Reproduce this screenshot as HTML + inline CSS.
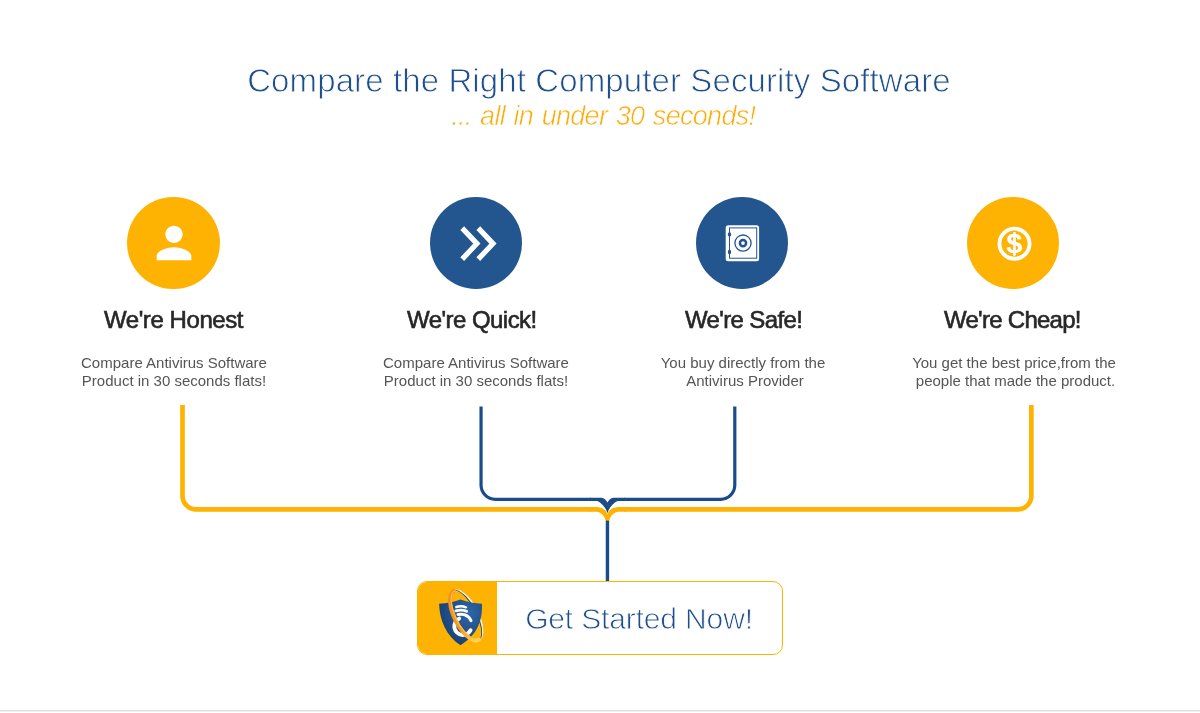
<!DOCTYPE html>
<html lang="en">
<head>
<meta charset="utf-8">
<title>Compare the Right Computer Security Software</title>
<style>
  html, body { margin: 0; padding: 0; background: #fff; }
  body { width: 1200px; height: 713px; position: relative; overflow: hidden;
         font-family: "Liberation Sans", sans-serif; -webkit-font-smoothing: antialiased; }
  h1, h2, p, .sub, .lbl { will-change: transform; }
  .abs { position: absolute; white-space: nowrap; }
  h1.title { margin: 0; left: -1px; width: 1200px; text-align: center; top: 59px;
             font-size: 33px; line-height: 44px; font-weight: normal; color: #1f4f8a;
             letter-spacing: 0.11px; -webkit-text-stroke: 0.8px #fff; }
  .sub { left: 0; width: 1206.5px; text-align: center; top: 98px;
         font-size: 27px; line-height: 36px; font-style: italic; color: #fbac08; -webkit-text-stroke: 0.6px #fff; letter-spacing: -0.7px; word-spacing: 1.7px; }
  .circle { position: absolute; width: 92.4px; height: 92.3px; border-radius: 50%; top: 196.9px; }
  .gold { background: #feb303; }
  .blue { background: #23558f; }
  h2.hd { margin: 0; position: absolute; white-space: nowrap; text-align: left;
          top: 304.4px; font-size: 24px; line-height: 32px; font-weight: normal; color: #272727;
          -webkit-text-stroke: 0.6px #272727; }
  p.tx { margin: 0; position: absolute; white-space: nowrap; text-align: center; width: 300px;
         top: 353.8px; font-size: 15px; line-height: 18.1px; color: #555; }
  .btn { position: absolute; left: 417px; top: 581px; width: 364px; height: 72px;
         border: 1px solid #feb303; border-radius: 10px; background: #fff; overflow: hidden; }
  .btn .ico { position: absolute; left: 0; top: 0; width: 79.4px; height: 72px; background: #feb303; }
  .btn .lbl { position: absolute; left: 80px; top: 0.5px; width: 282px; height: 72px; line-height: 72px;
              text-align: center; font-size: 30px; color: #1f4f8a; white-space: nowrap; letter-spacing: -0.15px; -webkit-text-stroke: 0.8px #fff; }
  .rule { position: absolute; left: 0; width: 1200px; height: 1px; }
</style>
</head>
<body>

<h1 class="abs title">Compare the Right Computer Security Software</h1>
<div class="abs sub">... all in under 30 seconds!</div>

<!-- connectors -->
<svg class="abs" style="left:0;top:395px" width="1200" height="200" viewBox="0 395 1200 200">
  <!-- gold outer bracket -->
  <path d="M182.5 405 V495.75 A13.7 13.7 0 0 0 196.2 509.45 H591 M624 509.45 H1017.65 A13.7 13.7 0 0 0 1031.35 495.75 V405"
        fill="none" stroke="#feb303" stroke-width="4.7"/>
  <path d="M590 507.1 H597.1 C603 507.7 606 510 607.45 514 C608.9 510 611.9 507.7 617.8 507.1 H625 V511.8 H618.8 C613.9 512.3 610.5 515.5 609.15 520.9 H605.75 C604.4 515.5 601 512.3 596.1 511.8 H590 Z" fill="#feb303"/>
  <!-- blue inner bracket -->
  <path d="M481.05 406.5 V485.05 A14.3 14.3 0 0 0 495.35 499.35 H591 M624 499.35 H720.5 A14.3 14.3 0 0 0 734.8 485.05 V406.5"
        fill="none" stroke="#1a4c8a" stroke-width="3.2"/>
  <path d="M590 497.75 H601.6 Q605.4 498.2 607.45 502.6 Q609.5 498.2 613.3 497.75 H625 V500.95 H617.6 C612.9 503.2 609.1 507.5 607.45 513.2 C605.8 507.5 602 503.2 597.3 500.95 H590 Z" fill="#1a4c8a"/>
  <!-- stem -->
  <rect x="605.75" y="520.6" width="3.4" height="61" fill="#1a4c8a"/>
</svg>

<!-- column 1 -->
<div class="circle gold" style="left:127.3px"></div>
<svg class="abs" style="left:147.5px;top:217px" width="52" height="52" viewBox="0 0 24 24">
  <path fill="#fff" d="M12 12c2.21 0 4-1.79 4-4s-1.79-4-4-4-4 1.79-4 4 1.79 4 4 4zm0 2c-2.67 0-8 1.34-8 4v2h16v-2c0-2.66-5.33-4-8-4z"/>
</svg>
<h2 class="hd" style="left:104.2px;letter-spacing:-0.43px">We're Honest</h2>
<p class="tx" style="left:23.5px">Compare Antivirus Software<br>Product in 30 seconds flats!</p>

<!-- column 2 -->
<div class="circle blue" style="left:429.9px"></div>
<svg class="abs" style="left:430px;top:197px" width="92" height="92" viewBox="430 197 92 92">
  <polyline points="462.2,228.1 476.9,243.6 462.2,259.1" fill="none" stroke="#fff" stroke-width="5.2"/>
  <polyline points="478.3,228.1 493,243.6 478.3,259.1" fill="none" stroke="#fff" stroke-width="5.2"/>
</svg>
<h2 class="hd" style="left:407px;letter-spacing:-0.54px">We're Quick!</h2>
<p class="tx" style="left:326px">Compare Antivirus Software<br>Product in 30 seconds flats!</p>

<!-- column 3 -->
<div class="circle blue" style="left:695.8px"></div>
<svg class="abs" style="left:696px;top:197px" width="92" height="92" viewBox="696 197 92 92">
  <rect x="725.7" y="225.2" width="33.4" height="36" rx="2.5" fill="#fff"/>
  <rect x="729.5" y="227.9" width="27.2" height="30.3" fill="none" stroke="#23558f" stroke-width="1"/>
  <ellipse cx="729.5" cy="234.4" rx="1.7" ry="2.2" fill="#23558f"/>
  <ellipse cx="729.5" cy="252" rx="1.7" ry="2.2" fill="#23558f"/>
  <circle cx="743" cy="243.1" r="8.1" fill="none" stroke="#23558f" stroke-width="1.3"/>
  <circle cx="743" cy="243.1" r="3.1" fill="none" stroke="#23558f" stroke-width="2.5"/>
</svg>
<h2 class="hd" style="left:684.9px;letter-spacing:-0.64px">We're Safe!</h2>
<p class="tx" style="left:593px">You buy directly from the<br><span style="padding-left:4px">Antivirus Provider</span></p>

<!-- column 4 -->
<div class="circle gold" style="left:967.1px"></div>
<svg class="abs" style="left:967.5px;top:197px" width="92" height="92" viewBox="967.5 197 92 92">
  <circle cx="1014" cy="243.7" r="15.05" fill="none" stroke="#fff" stroke-width="3.9"/>
  <rect x="1012.8" y="232" width="2.4" height="23.3" fill="#fff"/>
  <text x="1014" y="253.3" text-anchor="middle" font-family="Liberation Sans, sans-serif" font-weight="bold" font-size="28.5" fill="#fff">$</text>
</svg>
<h2 class="hd" style="left:944.2px;letter-spacing:-0.73px">We're Cheap!</h2>
<p class="tx" style="left:863.5px">You get the best price,from the<br><span style="padding-left:3px">people that made the product.</span></p>

<!-- button -->
<div class="btn">
  <div class="ico"></div>
  <svg style="position:absolute;left:0;top:0" width="80" height="72" viewBox="418 582 80 72">
    <defs>
      <radialGradient id="sh" cx="0.68" cy="0.3" r="0.75">
        <stop offset="0" stop-color="#3168a8"/>
        <stop offset="0.45" stop-color="#23558f"/>
        <stop offset="1" stop-color="#173f75"/>
      </radialGradient>
      <linearGradient id="rg" x1="0" y1="0" x2="1" y2="0">
        <stop offset="0" stop-color="#f68f1c"/>
        <stop offset="0.7" stop-color="#f89a1a"/>
        <stop offset="1" stop-color="#fdd35a"/>
      </linearGradient>
    </defs>
    <!-- back of ring -->
    <g transform="translate(466.4 615.4) rotate(63)">
      <path d="M-27.4 0 A27.4 11.5 0 0 1 27.4 0" fill="none" stroke="#f4f1e6" stroke-width="1.6"/>
      <path d="M-27 -2.2 A28.4 11.5 0 0 1 27 -2.2" fill="none" stroke="#1d4a85" stroke-width="0.9"/>
    </g>
    <!-- shield -->
    <path d="M439.1 603.8 Q450 603.6 460.5 599.6 Q471 603.6 482 603.8 C482.6 618 479 634 460.5 645.2 C446 636 439.5 620 439.1 603.8 Z" fill="url(#sh)"/>
    <!-- white mark -->
    <g fill="none" stroke="#fff" stroke-linecap="round">
      <path d="M470.6 630.2 A8.6 8.6 0 1 1 459.2 618.6" stroke-width="3.8"/>
      <path d="M458 614.4 Q467.6 613 471 620.6" stroke-width="3"/>
      <path d="M455.8 610.9 Q461.5 609 466.6 611.3" stroke-width="2.8"/>
      <path d="M456.4 607 Q461.5 605.3 466 607.3" stroke-width="2.5"/>
    </g>
    <!-- front of ring -->
    <g transform="translate(466.4 615.4) rotate(63)">
      <path d="M-27.4 0 A27.4 12 0 0 0 27.4 0" fill="none" stroke="url(#rg)" stroke-width="4" stroke-linecap="round"/>
      <path d="M-27 -0.6 A27 10.6 0 0 0 20 6.9" fill="none" stroke="#fcba50" stroke-width="1.3" stroke-linecap="round"/>
    </g>
  </svg>
  <div class="lbl">Get Started Now!</div>
</div>

<div class="rule" style="top:710px;background:#dcdcdc"></div>
<div class="rule" style="top:711px;background:#f1f1f1"></div>

</body>
</html>
